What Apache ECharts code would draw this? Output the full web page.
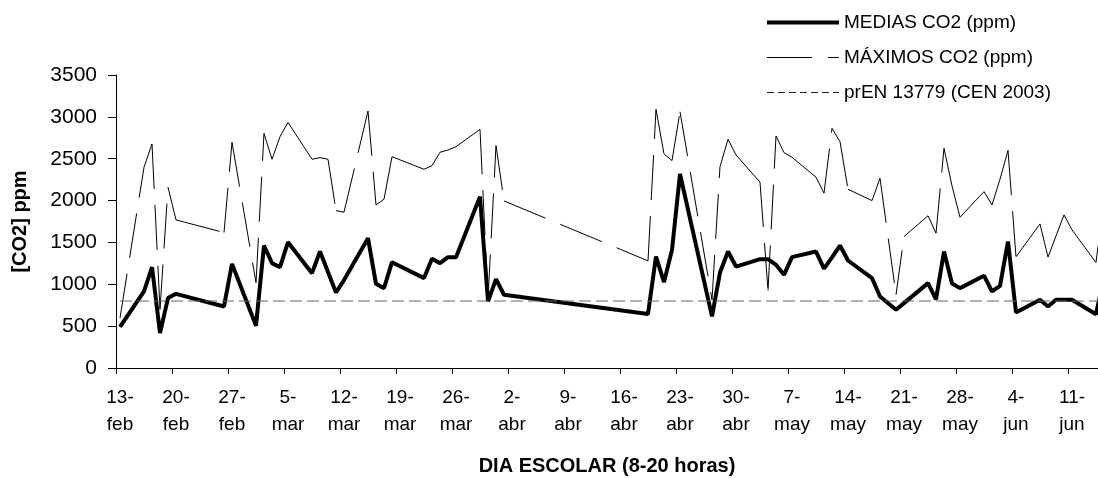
<!DOCTYPE html>
<html>
<head>
<meta charset="utf-8">
<script src="https://cdn.jsdelivr.net/npm/echarts@6/dist/echarts.min.js"></script>
<style>
html,body{margin:0;padding:0;background:#fff;}
#chart{width:1098px;height:478px;}
</style>
</head>
<body>
<div id="chart"></div>
<script>
// ---- data ----
var startDate = '2004-02-13';
var dates = [
 '2004-02-13',
 '2004-02-16','2004-02-17','2004-02-18','2004-02-19','2004-02-20',
 '2004-02-26','2004-02-27',
 '2004-03-01','2004-03-02','2004-03-03','2004-03-04','2004-03-05',
 '2004-03-08','2004-03-09','2004-03-10','2004-03-11','2004-03-12',
 '2004-03-15','2004-03-16','2004-03-17','2004-03-18',
 '2004-03-22','2004-03-23','2004-03-24','2004-03-25','2004-03-26',
 '2004-03-29','2004-03-30','2004-03-31','2004-04-01',
 '2004-04-19','2004-04-20','2004-04-21','2004-04-22','2004-04-23',
 '2004-04-27','2004-04-28','2004-04-29','2004-04-30',
 '2004-05-03','2004-05-04','2004-05-05','2004-05-06','2004-05-07',
 '2004-05-10','2004-05-11','2004-05-12','2004-05-13','2004-05-14',
 '2004-05-17','2004-05-18','2004-05-20','2004-05-21',
 '2004-05-24','2004-05-25','2004-05-26','2004-05-27','2004-05-28',
 '2004-05-31','2004-06-01','2004-06-02','2004-06-03','2004-06-04',
 '2004-06-07','2004-06-08','2004-06-09','2004-06-10','2004-06-11',
 '2004-06-14','2004-06-15'
];
var medias = [
 490,
 914,1205,417,835,886,
 735,1244,
 505,1463,1252,1205,1503,
 1133,1391,1146,902,1050,
 1551,1006,954,1264,
 1074,1304,1252,1324,1324,
 2047,795,1062,875,
 644,1331,1026,1411,2318,
 616,1140,1391,1212,
 1300,1300,1232,1113,1324,
 1391,1187,1322,1463,1284,
 1074,854,696,775,
 1014,819,1391,1010,954,
 1103,914,982,1510,664,
 815,735,815,815,815,
 642,1077
];
var maximos = [
 596,
 2398,2676,700,2159,1769,
 1618,2696,
 1020,2803,2493,2763,2934,
 2493,2513,2493,1880,1861,
 3070,1948,2016,2524,
 2374,2417,2577,2604,2644,
 2851,820,2657,1996,
 1280,3090,2557,2477,3061,
 815,2405,2732,2545,
 2220,926,2771,2572,2517,
 2279,2088,2863,2703,2135,
 2000,2267,874,1570,
 1819,1610,2624,2175,1801,
 2107,1948,2255,2600,1328,
 1721,1324,1577,1829,1650,
 1260,2040
];
var limitValue = 800;
var tickDays = ['13-','20-','27-','5-','12-','19-','26-','2-','9-','16-','23-','30-','7-','14-','21-','28-','4-','11-'];
var tickMonths = ['feb','feb','feb','mar','mar','mar','mar','abr','abr','abr','abr','abr','may','may','may','may','jun','jun'];
var yTicks = [0,500,1000,1500,2000,2500,3000,3500];
var seriesNames = ['MEDIAS CO2 (ppm)','MÁXIMOS CO2 (ppm)','prEN 13779 (CEN 2003)'];

// ---- build ----
function dayIndex(s){
  var a = s.split('-'), b = startDate.split('-');
  return Math.round((Date.UTC(+a[0],+a[1]-1,+a[2]) - Date.UTC(+b[0],+b[1]-1,+b[2]))/86400000);
}
var xs = dates.map(function(d){ return dayIndex(d) + 0.5; });
function pairs(vals){ return xs.map(function(x,i){ return [x, vals[i]]; }); }
function segments(vals){
  var out = [];
  for (var i = 0; i < xs.length - 1; i++) out.push([xs[i], vals[i], xs[i+1], vals[i+1]]);
  return out;
}
var tickPos = tickDays.map(function(_,i){ return i*7; });
var labelPos = tickDays.map(function(_,i){ return i*7 + 0.5; });

var FONT = 'Liberation Sans';
var styles = [
  {color:'#000', width:4, type:'solid'},
  {color:'#000', width:1, type:[45,16]},
  {color:'#666', width:1, type:[12,5]}
];
var legendStyles = [
  {color:'#000', width:4, type:'solid'},
  {color:'#000', width:1, type:[45,16]},
  {color:'#222', width:1, type:[7,4]}
];

// each segment restarts its dash pattern, as in the original
function segmentRenderer(style){
  return function(params, api){
    var cs = params.coordSys;
    var p1 = api.coord([api.value(0), api.value(1)]);
    var p2 = api.coord([api.value(2), api.value(3)]);
    var right = cs.x + cs.width;
    if (p1[0] >= right) return null;
    if (p2[0] > right){
      var t = (right - p1[0]) / (p2[0] - p1[0]);
      p2 = [right, p1[1] + t * (p2[1] - p1[1])];
    }
    return {
      type:'line',
      shape:{x1:p1[0], y1:p1[1], x2:p2[0], y2:p2[1]},
      style:{stroke:style.color, lineWidth:style.width, lineDash:style.type, fill:null}
    };
  };
}

var chart = echarts.init(document.getElementById('chart'), null, {renderer:'canvas'});
chart.setOption({
  animation:false,
  backgroundColor:'#fff',
  textStyle:{fontFamily:FONT},
  grid:{left:116, right:0, top:75, bottom:110, containLabel:false, outerBoundsMode:'none'},
  legend:{
    orient:'vertical', left:765, top:13, padding:0,
    itemWidth:72, itemHeight:20, itemGap:16,
    itemStyle:{opacity:0},
    textStyle:{fontFamily:FONT, fontSize:19, color:'#000'},
    data:seriesNames.map(function(n,i){
      return {name:n, itemStyle:{opacity:0}, lineStyle:{width:legendStyles[i].width, type:legendStyles[i].type, color:legendStyles[i].color}};
    })
  },
  xAxis:{
    type:'value', min:0, max:122.75,
    name:'DIA ESCOLAR (8-20 horas)', nameLocation:'middle', nameGap:88,
    nameTextStyle:{fontFamily:FONT, fontSize:20, fontWeight:'bold', color:'#000'},
    axisLine:{show:true, lineStyle:{color:'#000', width:1}},
    axisTick:{show:true, length:6, lineStyle:{color:'#000'}, customValues:tickPos},
    axisLabel:{
      customValues:labelPos, margin:16, fontSize:19, lineHeight:27, color:'#000', fontFamily:FONT,
      formatter:function(v){ var i = Math.round((v-0.5)/7); return tickDays[i] + '\n' + tickMonths[i]; }
    },
    splitLine:{show:false}
  },
  yAxis:{
    type:'value', min:yTicks[0], max:yTicks[yTicks.length-1], interval:500,
    name:'[CO2] ppm', nameLocation:'middle', nameGap:86, nameRotate:90,
    nameTextStyle:{fontFamily:FONT, fontSize:20, fontWeight:'bold', color:'#000'},
    axisLine:{show:true, lineStyle:{color:'#000', width:1}},
    axisTick:{show:true, length:8, lineStyle:{color:'#000'}},
    axisLabel:{margin:19, fontSize:21, color:'#000', fontFamily:FONT,
      formatter:function(v){ return String(v); }},
    splitLine:{show:false}
  },
  series:[
    {name:seriesNames[0], type:'line', data:pairs(medias), symbol:'none', clip:true,
     lineStyle:styles[0], itemStyle:{color:'#000'}, z:3},
    // legend entry for the máximos line
    {name:seriesNames[1], type:'line', data:[], symbol:'none',
     lineStyle:styles[1], itemStyle:{color:'#000'}, z:2},
    {name:seriesNames[1] + ' ', type:'custom', data:segments(maximos),
     encode:{x:[0,2], y:[1,3]}, renderItem:segmentRenderer(styles[1]), z:2, silent:true},
    {name:seriesNames[2], type:'line', data:pairs(medias.map(function(){ return limitValue; })), symbol:'none', clip:true,
     lineStyle:styles[2], itemStyle:{color:'#666'}, z:4}
  ]
});
</script>
</body>
</html>
